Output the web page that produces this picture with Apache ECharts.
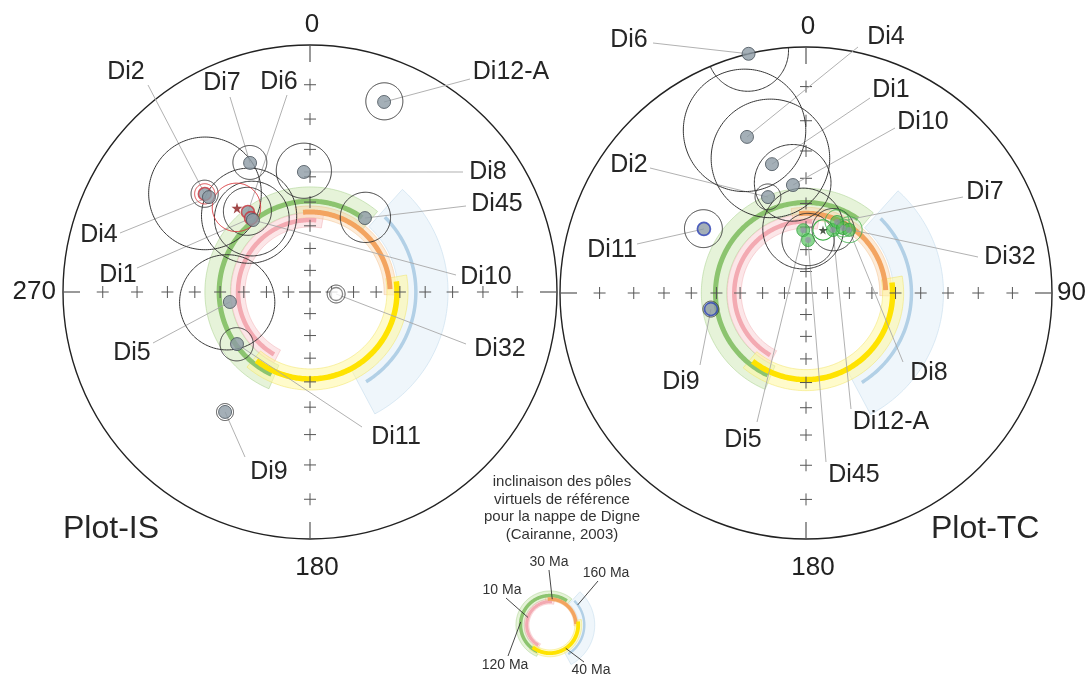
<!DOCTYPE html>
<html><head><meta charset="utf-8">
<script src="https://cdn.jsdelivr.net/npm/echarts@6/dist/echarts.min.js"></script>
<style>html,body{margin:0;padding:0;background:#fff}#c{width:1089px;height:675px}</style>
</head><body><div id="c"></div>
<script>
// ================= DATA =================
// stereonet tick inclinations (Wulff net, every 10°) and directions
const tickIncs = [10, 20, 30, 40, 50, 60, 70, 80];
const tickDirs = [0, 90, 180, 270];
const isAxisLabels = ['0', '180', '270'];
const tcAxisLabels = ['0', '90', '180'];

// reference inclinations of virtual poles (Cairanne, 2003)
const refAges      = ['10 Ma', '30 Ma', '40 Ma', '120 Ma', '160 Ma'];
const refInc       = [57.5, 54.1, 51.2, 49.6, 43.6];
const refIncLow    = [54.5, 51.6, 46.7, 43.9, 31.6];
const refIncHigh   = [60.5, 56.6, 55.4, 54.3, 50.8];
const refDecFrom   = [210, 355, 83, 205, 45];
const refDecTo     = [365, 448, 218, 395, 148];
const refBandFrom  = [207, 350, 80, 203, 42];
const refBandTo    = [370, 452, 220, 400, 152];
const legendLeaderDec = [289, 5, 146, 276, 54];

// Plot-IS (in situ) site directions: declination, inclination, alpha95
const isNames = ['Di12-A', 'Di8', 'Di45', 'Di7', 'Di2', 'Di4', 'Di6', 'Di1', 'Di10', 'Di5', 'Di11', 'Di9', 'Di32'];
const isDec   = [21.3, 357.1, 36.6, 335.1, 313.0, 313.2, 322.2, 321.4, 321.6, 262.9, 234.5, 215.3, 94.4];
const isInc   = [10.9, 38.1, 49.1, 30.1, 29.6, 31.4, 45.4, 48.1, 49.2, 53.8, 50.1, 28.5, -77.9];
const isA95   = [5.1, 10.3, 10.2, 5.9, 4.7, 19.5, 9.5, 19.0, 15.1, 19.7, 6.8, 2.9, 4.1];
const isGroup = ['Di2', 'Di6', 'Di1'];
// group mean (star) and red cones
const isRedDec = [319.0, 313.0];
const isRedInc = [41.5, 29.6];
const isRedA95 = [9.3, 3.5];

// Plot-TC (tilt corrected)
const tcNames = ['Di6', 'Di4', 'Di1', 'Di10', 'Di2', 'Di11', 'Di9', 'Di5', 'Di45', 'Di12-A', 'Di7', 'Di32', 'Di8'];
const tcDec   = [346.5, 339.3, 345.2, 353.1, 338.4, 302.1, 260.4, 357.5, 2.2, 23.2, 23.6, 29.7, 34.3];
const tcInc   = [0.0, 21.7, 33.1, 42.3, 44.5, 37.8, 47.2, 61.3, 65.7, 58.9, 55.0, 56.2, 55.5];
const tcA95   = [9.4, 19.1, 20.9, 14.8, 5.1, 7.1, 3.2, 17.5, 11.6, 9.1, 5.1, 3.8, 5.5];
const tcGroup = ['Di5', 'Di45', 'Di12-A', 'Di7', 'Di32', 'Di8'];
const tcFlag  = ['Di11', 'Di9'];
const tcMeanDec = [15.1];
const tcMeanInc = [60.3];
const tcMeanA95 = [4.4];

const noteLines = ['inclinaison des pôles', 'virtuels de référence', 'pour la nappe de Digne', '(Cairanne, 2003)'];

// ================= LAYOUT / STYLE =================
const NETS = [{cx: 310, cy: 292, R: 247}, {cx: 806, cy: 293, R: 246}, {cx: 550, cy: 625, R: 80}];
const FONT = '"Liberation Sans", Arial, Helvetica, sans-serif';
const isLabelPos = { // text x,y ; leader start x,y
  'Di12-A': [511, 72, 470, 79], 'Di8': [488, 172, 463, 172], 'Di45': [497, 204, 466, 206],
  'Di7': [222, 83, 230, 97], 'Di2': [126, 72, 148, 85], 'Di4': [99, 235, 120, 233],
  'Di6': [279, 82, 287, 95], 'Di1': [118, 275, 137, 268], 'Di10': [486, 277, 456, 275],
  'Di5': [132, 353, 153, 343], 'Di11': [396, 437, 362, 427], 'Di9': [269, 472, 245, 457],
  'Di32': [500, 349, 466, 344]
};
const tcLabelPos = {
  'Di6': [629, 40, 653, 43], 'Di4': [886, 37, 858, 47], 'Di1': [891, 90, 870, 98],
  'Di10': [923, 122, 895, 128], 'Di2': [629, 165, 650, 168], 'Di7': [985, 192, 963, 197],
  'Di11': [612, 250, 637, 244], 'Di32': [1010, 257, 978, 257], 'Di9': [681, 382, 700, 365],
  'Di8': [929, 373, 903, 362], 'Di12-A': [891, 422, 851, 409], 'Di5': [743, 440, 757, 422],
  'Di45': [854, 475, 826, 462]
};
const legendLabelPos = [[502, 590, 506, 598], [549, 562, 549, 570], [591, 670, 584, 662], [505, 665, 508, 656], [606, 573, 598, 581]];
const refOrder = [4, 3, 0, 1, 2];
const thickColor = ['#f3aab2', '#f3a460', '#ffe300', '#8cc46f', '#b2d0e6'];
const thickWidth = [4.5, 5, 5.5, 5, 3.5];
const bandFill = ['rgba(248,200,205,0.45)', 'rgba(250,212,170,0.45)', 'rgba(255,248,160,0.55)', 'rgba(205,232,180,0.5)', 'rgba(228,240,249,0.6)'];
const bandStroke = ['rgba(240,170,175,0.6)', 'rgba(240,180,120,0.5)', 'rgba(240,225,90,0.6)', 'rgba(160,205,130,0.6)', 'rgba(200,222,238,0.8)'];

// ================= GEOMETRY =================
const rad = d => d * Math.PI / 180;
function proj(dec, inc) {
  const r = Math.tan(rad(90 - Math.abs(inc)) / 2);
  return [r * Math.sin(rad(dec)), r * Math.cos(rad(dec))];
}
function arc(inc, d0, d1) {
  const r = Math.tan(rad(90 - inc) / 2), pts = [];
  for (let d = d0; d <= d1 + 1e-9; d += 1) pts.push([r * Math.sin(rad(d)), r * Math.cos(rad(d))]);
  return pts;
}
function cone(dec, inc, a) {
  const th = 90 - Math.abs(inc);
  const r1 = Math.tan(rad(th - a) / 2), r2 = Math.tan(rad(th + a) / 2);
  const c = (r1 + r2) / 2, rho = (r2 - r1) / 2;
  const cx = c * Math.sin(rad(dec)), cy = c * Math.cos(rad(dec));
  const start = Math.atan2(cy, cx), pts = [];
  for (let k = 0; k <= 180; k++) {
    const t = start + 2 * Math.PI * k / 180;
    const x = cx + rho * Math.cos(t), y = cy + rho * Math.sin(t);
    if (x * x + y * y <= 1.000001) pts.push([x, y]);
  }
  return pts;
}

// ================= SERIES BUILDERS =================
const series = [];
function custom(g, n, z, render) {
  series.push({type: 'custom', coordinateSystem: 'cartesian2d', xAxisIndex: g, yAxisIndex: g, z: z,
    silent: true, clip: false, animation: false, data: Array.from({length: n}, () => [0, 0]), renderItem: render});
}
function refLayers(g, ws) {
  custom(g, refOrder.length, 1, (p, api) => {
    const i = refOrder[p.dataIndex];
    const pts = arc(refIncLow[i], refBandFrom[i], refBandTo[i])
      .concat(arc(refIncHigh[i], refBandFrom[i], refBandTo[i]).reverse()).map(q => api.coord(q));
    return {type: 'polygon', shape: {points: pts}, style: {fill: bandFill[i], stroke: bandStroke[i], lineWidth: 0.8}};
  });
  custom(g, refOrder.length, 2, (p, api) => {
    const i = refOrder[p.dataIndex];
    const pts = arc(refInc[i], refDecFrom[i], refDecTo[i]).map(q => api.coord(q));
    return {type: 'polyline', shape: {points: pts}, style: {fill: 'none', stroke: thickColor[i], lineWidth: thickWidth[i] * ws}};
  });
}
function axesLayer(g, labels) {
  custom(g, 1, 3, (p, api) => {
    const c = api.coord([0, 0]), R = api.size([1, 1])[0];
    const ln = (x1, y1, x2, y2, w) => ({type: 'line', shape: {x1, y1, x2, y2}, style: {stroke: '#555', lineWidth: w || 1}});
    const ch = [{type: 'circle', shape: {cx: c[0], cy: c[1], r: R}, style: {fill: 'none', stroke: '#222', lineWidth: 1.4}}];
    tickDirs.forEach(d => {
      const e = api.coord(proj(d, 0));
      const ux = (c[0] - e[0]) / R, uy = (c[1] - e[1]) / R;
      ch.push(ln(e[0], e[1], e[0] + ux * 17, e[1] + uy * 17, 1.2));
      tickIncs.forEach(inc => {
        const q = api.coord(proj(d, inc));
        ch.push(ln(q[0] - 6, q[1], q[0] + 6, q[1]), ln(q[0], q[1] - 6, q[0], q[1] + 6));
      });
    });
    ch.push(ln(c[0] - 11, c[1], c[0] + 11, c[1], 1.3), ln(c[0], c[1] - 11, c[0], c[1] + 11, 1.3));
    labels.forEach(t => {
      const d = +t, e = api.coord(proj(d, 0));
      let x = e[0], y = e[1], align = 'center';
      if (d === 0) { x += 2; y -= 20; }
      if (d === 180) { x += 7; y += 29; }
      if (d === 270) { x -= 7; align = 'right'; }
      if (d === 90) { x += 5; align = 'left'; }
      ch.push({type: 'text', x, y, style: {text: t, fill: '#222', fontSize: 26, fontFamily: FONT, align, verticalAlign: 'middle'}});
    });
    return {type: 'group', children: ch};
  });
}
function coneLayer(g, dec, inc, a, colorFn, z, lw) {
  custom(g, dec.length, z, (p, api) => {
    const i = p.dataIndex;
    const pts = cone(dec[i], inc[i], a[i]).map(q => api.coord(q));
    return {type: 'polyline', shape: {points: pts}, style: {fill: 'none', stroke: colorFn(i), lineWidth: lw || 1}};
  });
}
function labelLayer(g, names, dec, inc, pos) {
  custom(g, names.length, 4, (p, api) => {
    const i = p.dataIndex, L = pos[names[i]], q = api.coord(proj(dec[i], inc[i]));
    return {type: 'line', shape: {x1: L[2], y1: L[3], x2: q[0], y2: q[1]}, style: {stroke: '#a8a8a8', lineWidth: 0.9}};
  });
  custom(g, names.length, 20, (p, api) => {
    const L = pos[names[p.dataIndex]];
    return {type: 'text', x: L[0], y: L[1], style: {text: names[p.dataIndex], fill: '#262626', fontSize: 25, fontFamily: FONT, align: 'center', verticalAlign: 'middle'}};
  });
}
function dotLayer(g, data, size, z) {
  series.push({type: 'scatter', xAxisIndex: g, yAxisIndex: g, z: z, silent: true, animation: false,
    symbolSize: size, data: data});
}
const STAR = 'path://M50,0 L61,35 L98,35 L68,57 L79,91 L50,70 L21,91 L32,57 L2,35 L39,35 Z';

// ---- Plot-IS ----
refLayers(0, 1);
axesLayer(0, isAxisLabels);
coneLayer(0, isDec, isInc, isA95, () => '#363636', 5);
coneLayer(0, isRedDec, isRedInc, isRedA95, () => '#d8383c', 6);
labelLayer(0, isNames, isDec, isInc, isLabelPos);
dotLayer(0, isNames.map((n, i) => ({value: proj(isDec[i], isInc[i]),
  itemStyle: isInc[i] < 0 ? {color: '#fff', borderColor: '#6a6a6a', borderWidth: 1.3}
    : {color: '#8d9ba5', borderColor: isGroup.includes(n) ? '#c8323a' : '#47515a', borderWidth: isGroup.includes(n) ? 1.6 : 1}})), 13, 8);
dotLayer(0, [{value: proj(isRedDec[0], isRedInc[0]), symbol: STAR, itemStyle: {color: '#8a1c1c'}}], 11, 9);

// ---- Plot-TC ----
refLayers(1, 1);
axesLayer(1, tcAxisLabels);
coneLayer(1, tcDec, tcInc, tcA95, i => (tcGroup.includes(tcNames[i]) && tcA95[i] < 8) ? '#3fae4a' : '#363636', 5);
coneLayer(1, tcMeanDec, tcMeanInc, tcMeanA95, () => '#3fae4a', 6, 1.2);
labelLayer(1, tcNames, tcDec, tcInc, tcLabelPos);
dotLayer(1, tcNames.map((n, i) => {
  const v = proj(tcDec[i], tcInc[i]);
  if (tcGroup.includes(n)) return {value: v, itemStyle: {color: 'rgba(72,190,82,0.8)', borderColor: 'rgba(50,160,60,0.9)', borderWidth: 1}};
  return {value: v, itemStyle: {color: '#8d9ba5', borderColor: tcFlag.includes(n) ? '#2b3fb5' : '#47515a', borderWidth: tcFlag.includes(n) ? 1.7 : 1}};
}), 13, 8);
dotLayer(1, tcNames.filter(n => tcGroup.includes(n)).map(n => {
  const i = tcNames.indexOf(n);
  return {value: proj(tcDec[i], tcInc[i]), itemStyle: {color: 'rgba(150,140,170,0.8)'}};
}), 6, 9);
dotLayer(1, [{value: proj(tcMeanDec[0], tcMeanInc[0]), symbol: STAR, itemStyle: {color: '#1f2f1f'}}], 9, 10);

// ---- legend ring ----
refLayers(2, 0.7);
custom(2, refAges.length, 4, (p, api) => {
  const i = p.dataIndex, L = legendLabelPos[i], q = api.coord(proj(legendLeaderDec[i], refInc[i]));
  return {type: 'group', children: [
    {type: 'line', shape: {x1: L[2], y1: L[3], x2: q[0], y2: q[1]}, style: {stroke: '#333', lineWidth: 0.9}},
    {type: 'text', x: L[0], y: L[1], style: {text: refAges[i], fill: '#333', fontSize: 14, fontFamily: FONT, align: 'center', verticalAlign: 'middle'}}
  ]};
});

const option = {
  animation: false,
  grid: NETS.map(n => ({left: n.cx - n.R, top: n.cy - n.R, width: 2 * n.R, height: 2 * n.R, containLabel: false, outerBoundsMode: 'none'})),
  xAxis: NETS.map((n, i) => ({type: 'value', gridIndex: i, min: -1, max: 1, show: false})),
  yAxis: NETS.map((n, i) => ({type: 'value', gridIndex: i, min: -1, max: 1, show: false})),
  graphic: [
    {type: 'text', left: 63, top: 513, style: {text: 'Plot-IS', fontSize: 32, fontFamily: FONT, fill: '#262626'}},
    {type: 'text', left: 931, top: 513, style: {text: 'Plot-TC', fontSize: 32, fontFamily: FONT, fill: '#262626'}}
  ].concat(noteLines.map((t, k) => ({type: 'text', x: 562, y: 482 + k * 17.6,
    style: {text: t, fontSize: 15, fontFamily: FONT, fill: '#333', align: 'center', verticalAlign: 'middle'}}))),
  series: series
};
const chart = echarts.init(document.getElementById('c'), null, {renderer: 'canvas', width: 1089, height: 675});
chart.setOption(option);
</script></body></html>
